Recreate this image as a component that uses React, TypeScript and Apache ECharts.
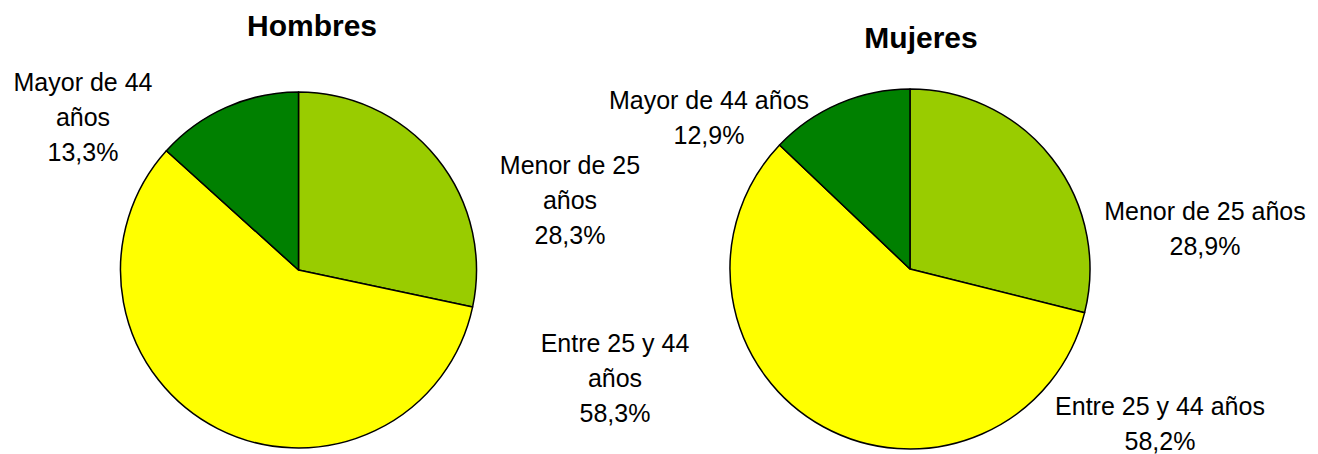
import React, { useEffect, useRef } from "react";
import * as echarts from "echarts";

const categories = ["Menor de 25 años", "Entre 25 y 44 años", "Mayor de 44 años"];
const hombresValues = [28.3, 58.3, 13.3];
const mujeresValues = [28.9, 58.2, 12.9];
const chartTitles = ["Hombres", "Mujeres"];
const sliceColors = ["#99CC00", "#FFFF00", "#008000"];

// label block centres [x, y] per series / data index
const labelPos = [
  [[570, 200], [615, 378], [83, 117]],
  [[1205, 228], [1160, 423], [709, 117]],
];

const FONT = "'Liberation Sans', Arial, sans-serif";

function fmt(v: number) {
  return v.toFixed(1).replace(".", ",") + "%";
}

export default function App() {
  const ref = useRef<HTMLDivElement>(null);
  useEffect(() => {
    if (!ref.current) return;
    const chart = echarts.init(ref.current, undefined, { renderer: "svg" });
    const mk = (values: number[], idx: number, center: number[], radius: number) => ({
      type: "pie",
      center,
      radius,
      startAngle: 90,
      clockwise: true,
      silent: true,
      data: categories.map((c, i) => ({
        name: c,
        value: values[i],
        itemStyle: { color: sliceColors[i] },
      })),
      itemStyle: { borderColor: "#000", borderWidth: 1.5 },
      label: {
        show: true,
        color: "#000",
        fontFamily: FONT,
        fontSize: 25,
        lineHeight: 35,
        align: "center",
        formatter: (p: any) => {
          const name = idx === 0 ? p.name.replace(/ años$/, "\naños") : p.name;
          return name + "\n" + fmt(p.value);
        },
      },
      labelLine: { show: false },
      labelLayout: (p: any) => {
        const pos = labelPos[idx][p.dataIndex];
        return { x: pos[0], y: pos[1], align: "center", verticalAlign: "middle", hideOverlap: false };
      },
    });
    chart.setOption({
      animation: false,
      backgroundColor: "#fff",
      series: [
        mk(hombresValues, 0, [298.5, 270], 178),
        mk(mujeresValues, 1, [910, 269], 180),
      ],
      graphic: [
        {
          type: "text",
          x: 312,
          y: 25,
          style: { text: chartTitles[0], align: "center", verticalAlign: "middle", font: `bold 30px ${FONT}`, fill: "#000" },
        },
        {
          type: "text",
          x: 921,
          y: 37,
          style: { text: chartTitles[1], align: "center", verticalAlign: "middle", font: `bold 30px ${FONT}`, fill: "#000" },
        },
      ],
    });
    return () => chart.dispose();
  }, []);
  return (
    <div
      ref={ref}
      style={{ position: "absolute", left: 0, top: 0, width: 1318, height: 454, background: "#fff" }}
    />
  );
}
